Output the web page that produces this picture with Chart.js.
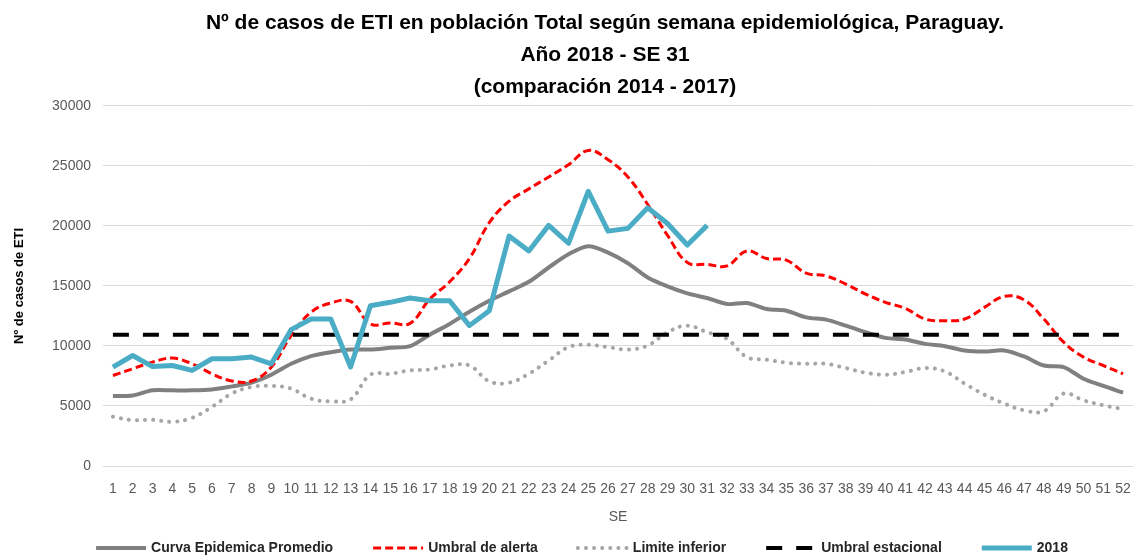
<!DOCTYPE html>
<html>
<head>
<meta charset="utf-8">
<script src="https://cdn.jsdelivr.net/npm/chart.js@4.4.1/dist/chart.umd.min.js"></script>
<style>
  body { margin: 0; background: #fff; }
  #wrap { width: 1133px; height: 558px; }
</style>
</head>
<body>
<div id="wrap"><canvas id="etiChart"></canvas></div>
<script>
// Semanas epidemiologicas
const semanas = ['1','2','3','4','5','6','7','8','9','10','11','12','13','14','15','16','17','18','19','20','21','22','23','24','25','26',
                 '27','28','29','30','31','32','33','34','35','36','37','38','39','40','41','42','43','44','45','46','47','48','49','50','51','52'];

// Curva epidemica promedio 2014 - 2017
const curvaPromedio = [5830, 5870, 6300, 6300, 6300, 6380, 6630, 6940, 7600, 8510, 9150, 9480, 9700, 9700, 9840, 9980, 10940, 11830,
                       12850, 13760, 14540, 15340, 16530, 17630, 18300, 17770, 16890, 15700, 14960, 14380, 13990, 13490, 13570, 13070,
                       12930, 12380, 12190, 11690, 11140, 10670, 10530, 10170, 9980, 9620, 9530, 9620, 9120, 8370, 8240, 7270, 6670, 6110];

// Umbral de alerta
const umbralAlerta = [7540, 8100, 8650, 8990, 8510, 7680, 7080, 7080, 8240, 10860, 12800, 13570, 13710, 11830, 11910, 11880, 13900, 15340,
                      17280, 20260, 22050, 23080, 24070, 25090, 26280, 25510, 24070, 21780, 19210, 16940, 16800, 16660, 17910, 17280,
                      17140, 16060, 15830, 15150, 14320, 13630, 13130, 12240, 12100, 12240, 13210, 14130, 13840, 12240, 10310, 9070, 8370, 7680];

// Limite inferior
const limiteInferior = [4100, 3820, 3850, 3680, 4010, 4920, 6030, 6580, 6670, 6440, 5610, 5390, 5550, 7600, 7680, 7960, 8040, 8370,
                        8370, 7050, 6940, 7680, 8790, 9900, 10090, 9900, 9700, 10030, 11140, 11690, 11140, 10590, 9070, 8850,
                        8600, 8510, 8510, 8160, 7770, 7600, 7830, 8160, 7880, 6860, 5940, 5200, 4640, 4560, 6030, 5470, 5060, 4730];

// Umbral estacional
const umbralEstacional = [10920, 10920, 10920, 10920, 10920, 10920, 10920, 10920, 10920, 10920, 10920, 10920, 10920, 10920, 10920, 10920,
                          10920, 10920, 10920, 10920, 10920, 10920, 10920, 10920, 10920, 10920, 10920, 10920, 10920, 10920, 10920, 10920,
                          10920, 10920, 10920, 10920, 10920, 10920, 10920, 10920, 10920, 10920, 10920, 10920, 10920, 10920, 10920, 10920,
                          10920, 10920, 10920, 10920];

// Casos 2018 (hasta SE 31)
const casos2018 = [8240, 9200, 8280, 8370, 7960, 8930, 8930, 9070, 8510, 11360, 12240, 12240, 8240, 13350, 13630, 13990, 13760, 13760,
                   11690, 12930, 19150, 17910, 20040, 18550, 22880, 19560, 19790, 21500, 20200, 18400, 20040];

const ticksY = [0, 5000, 10000, 15000, 20000, 25000, 30000];

const tituloLineas = [
    'Nº de casos de ETI en población Total según semana epidemiológica, Paraguay.',
    'Año 2018 - SE 31',
    '(comparación 2014 - 2017)'
];

const fuente = '"Liberation Sans", Arial, sans-serif';

// Leyenda dibujada a mano (Chart.js no deja separar los items sin agrandar la caja)
const leyendaAbajo = {
    id: 'leyendaAbajo',
    afterLayout(chart) {
        // el titulo original esta un poco corrido a la izquierda del area del grafico
        chart.titleBlock.left -= 26;
    },
    afterDraw(chart) {
        const ctx = chart.ctx;
        const y = chart.height - 10;
        const largo = 50, sep = 5, hueco = 40;
        const sets = chart.data.datasets;
        ctx.save();
        ctx.font = 'bold 14px ' + fuente;
        const anchos = sets.map(d => largo + sep + ctx.measureText(d.label).width);
        const total = anchos.reduce((a, b) => a + b, 0) + hueco * (sets.length - 1);
        let x = 582 - total / 2;
        sets.forEach((d, i) => {
            ctx.beginPath();
            ctx.strokeStyle = d.borderColor;
            ctx.lineWidth = d.borderWidth;
            ctx.lineCap = d.borderCapStyle || 'butt';
            ctx.setLineDash(d.borderDash || []);
            ctx.moveTo(x, y);
            ctx.lineTo(x + largo, y);
            ctx.stroke();
            ctx.setLineDash([]);
            ctx.fillStyle = '#262626';
            ctx.textBaseline = 'middle';
            ctx.fillText(d.label, x + largo + sep, y);
            x += anchos[i] + hueco;
        });
        ctx.restore();
    }
};

function initEtiChart() {
    const ctx = document.getElementById('etiChart');
    if (!ctx) return;

    new Chart(ctx, {
        type: 'line',
        data: {
            labels: semanas,
            datasets: [{
                label: 'Curva Epidemica Promedio',
                data: curvaPromedio,
                borderColor: '#808080',
                borderWidth: 4,
                tension: 0.3,
                order: 5
            }, {
                label: 'Umbral de alerta',
                data: umbralAlerta,
                borderColor: '#ff0000',
                borderWidth: 3,
                borderDash: [8, 4],
                tension: 0.4,
                order: 4
            }, {
                label: 'Limite inferior',
                data: limiteInferior,
                borderColor: '#a6a6a6',
                borderWidth: 4,
                borderDash: [0.1, 8],
                borderCapStyle: 'round',
                tension: 0.4,
                order: 3
            }, {
                label: 'Umbral estacional',
                data: umbralEstacional,
                borderColor: '#000000',
                borderWidth: 4,
                borderDash: [16, 14],
                tension: 0,
                order: 2
            }, {
                label: '2018',
                data: casos2018,
                borderColor: '#4bacc6',
                borderWidth: 5,
                tension: 0,
                order: 1
            }]
        },
        options: {
            responsive: true,
            maintainAspectRatio: false,
            animation: false,
            elements: {
                point: { radius: 0, hoverRadius: 0 },
                line: { fill: false, borderJoinStyle: 'round' }
            },
            layout: {
                padding: { left: 0, right: 0, top: 0, bottom: 32 }
            },
            plugins: {
                legend: { display: false },
                tooltip: { enabled: false },
                title: {
                    display: true,
                    fullSize: false,
                    text: tituloLineas,
                    color: '#000',
                    font: { family: fuente, size: 21, weight: 'bold', lineHeight: 1.52 },
                    padding: { top: 7, bottom: 3 }
                }
            },
            scales: {
                x: {
                    offset: true,
                    grid: { display: false, drawTicks: false, offset: true },
                    border: { display: true, color: '#d9d9d9', width: 1 },
                    ticks: {
                        autoSkip: false,
                        maxRotation: 0,
                        padding: 15,
                        color: '#595959',
                        font: { family: fuente, size: 14 }
                    },
                    title: {
                        display: true,
                        text: 'SE',
                        color: '#595959',
                        font: { family: fuente, size: 14 },
                        padding: { top: 0, bottom: 0 }
                    },
                    afterFit: function(scale) {
                        scale.height = 60;
                        scale.paddingLeft = 0;
                        scale.paddingRight = 0;
                    }
                },
                y: {
                    min: 0,
                    max: 30000,
                    afterBuildTicks: function(scale) {
                        scale.ticks = ticksY.map(v => ({ value: v }));
                    },
                    grid: { color: '#d9d9d9', lineWidth: 1, drawTicks: false },
                    border: { display: false },
                    ticks: {
                        padding: 12,
                        color: '#595959',
                        font: { family: fuente, size: 14 },
                        callback: function(value) {
                            return String(value);
                        }
                    },
                    title: {
                        display: true,
                        text: 'Nº de casos de ETI',
                        color: '#000',
                        font: { family: fuente, size: 13, weight: 'bold' },
                        padding: { top: 12, bottom: 0 }
                    },
                    afterFit: function(scale) { scale.width = 103; }
                }
            }
        },
        plugins: [leyendaAbajo]
    });
}

document.addEventListener('DOMContentLoaded', function() {
    initEtiChart();
});
</script>
</body>
</html>
